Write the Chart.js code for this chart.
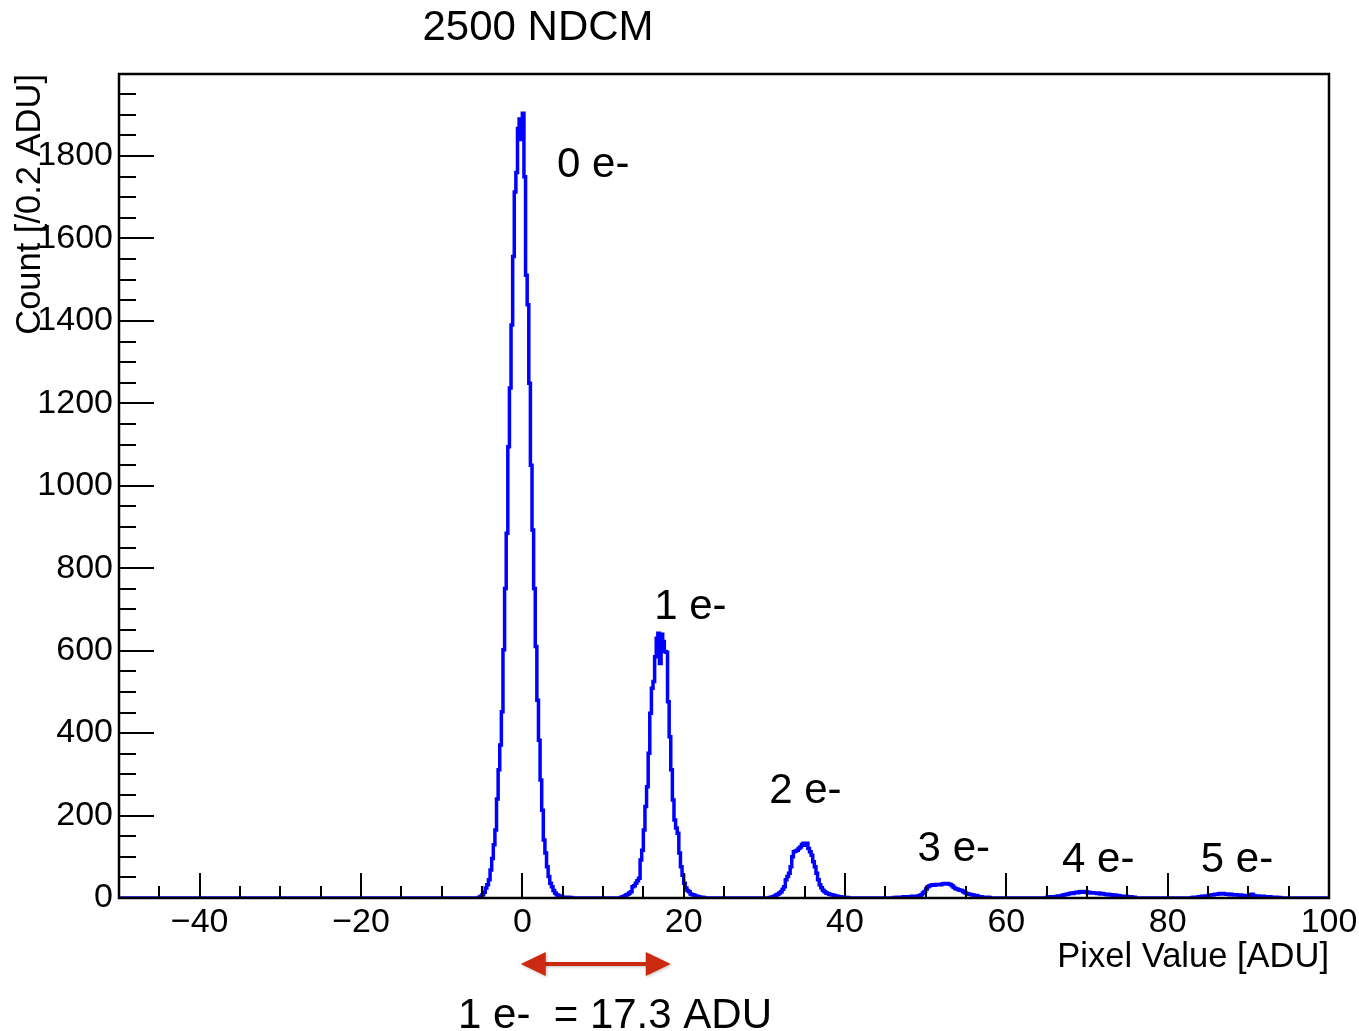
<!DOCTYPE html>
<html>
<head>
<meta charset="utf-8">
<title>2500 NDCM</title>
<script src="https://cdn.jsdelivr.net/npm/chart.js@4.4.1/dist/chart.umd.min.js"></script>
<style>
  html, body { margin: 0; padding: 0; background: #ffffff; }
  #wrap { width: 1359px; height: 1031px; }
</style>
</head>
<body>
<div id="wrap"><canvas id="hist" width="1359" height="1031"></canvas></div>
<script>
// ---- histogram definition: bins of 0.2 ADU from -50 to 100 ----
const binWidth = 0.2;
const xRange = [-50, 100];
const yRange = [0, 1999];

// axis tick labels
const xTickValues = [-40, -20, 0, 20, 40, 60, 80, 100];
const yTickValues = [0, 200, 400, 600, 800, 1000, 1200, 1400, 1600, 1800];

// counts per bin, grouped by charge peak (first bin's lower edge given separately)
const peak0Start = -5.4;
const peak0Counts = [2, 4, 8, 14, 24, 32, 44, 68, 96, 129, 165, 240, 311, 371, 452, 602, 751, 885,
  1095, 1237, 1390, 1556, 1713, 1760, 1867, 1890, 1840, 1904, 1750, 1511, 1439, 1249, 1050, 893,
  751, 610, 480, 383, 286, 213, 141, 109, 76, 52, 36, 27, 18, 12, 8, 6, 4, 3, 2, 2, 1, 2, 1, 1];

const peak1Start = 12.2;
const peak1Counts = [2, 3, 5, 7, 9, 12, 15, 27, 30, 36, 42, 48, 92, 116, 165, 222, 270, 351, 448,
  509, 525, 585, 630, 642, 569, 640, 622, 598, 596, 476, 391, 311, 238, 189, 170, 157, 109, 76,
  55, 36, 24, 18, 15, 10, 8, 7, 5, 4, 3, 2, 2, 1];

const peak2Start = 30.6;
const peak2Counts = [1, 2, 3, 5, 7, 9, 12, 15, 21, 27, 44, 52, 60, 76, 100, 112, 114, 116, 120,
  124, 130, 133, 128, 133, 120, 112, 104, 88, 76, 60, 44, 32, 25, 19, 15, 12, 11, 9, 8, 7, 6, 5,
  4, 3, 3, 2, 2, 1, 1];

const peak3Start = 46.0;
const peak3Counts = [1, 1, 2, 2, 2, 2, 3, 2, 3, 3, 3, 4, 3, 4, 4, 5, 6, 8, 12, 16, 22, 27, 30, 31,
  32, 31, 33, 32, 33, 32, 34, 35, 34, 35, 34, 33, 30, 26, 23, 22, 20, 19, 18, 15, 13, 11, 10, 9,
  8, 7, 6, 6, 4, 3, 3, 2, 2, 1, 2, 1];

const peak4Start = 65.0;
const peak4Counts = [2, 2, 3, 2, 3, 3, 4, 5, 5, 6, 7, 8, 9, 10, 11, 12, 11, 13, 14, 13, 15, 16, 14,
  15, 16, 13, 14, 12, 13, 12, 12, 11, 12, 10, 11, 10, 9, 8, 9, 7, 8, 6, 7, 5, 6, 5, 4, 4, 3, 4,
  3, 2, 3, 2, 2];

const peak5Start = 83.0;
const peak5Counts = [1, 2, 2, 2, 3, 3, 4, 4, 5, 5, 6, 7, 7, 8, 9, 9, 10, 11, 10, 11, 10, 9, 10, 8,
  9, 8, 7, 8, 7, 6, 7, 6, 5, 6, 5, 6, 8, 9, 6, 5, 4, 5, 4, 3, 4, 3, 3, 2, 3, 2, 2, 1, 2, 1, 1];

// peak labels (position in data units: ADU, counts at text baseline)
const peakLabels = ['0 e-', '1 e-', '2 e-', '3 e-', '4 e-', '5 e-'];
const peakLabelX = [4.3, 16.35, 30.6, 49.0, 66.9, 84.1];
const peakLabelY = [1749, 677, 230, 89, 62, 62];

// gain marker: arrow spanning one electron
const gainArrowFrom = -0.2;
const gainArrowTo = 18.4;
const gainText = '1 e-  = 17.3 ADU';

// ---- build bin contents ----
const nBins = Math.round((xRange[1] - xRange[0]) / binWidth);
const counts = new Array(nBins).fill(0);
[[peak0Start, peak0Counts], [peak1Start, peak1Counts], [peak2Start, peak2Counts],
 [peak3Start, peak3Counts], [peak4Start, peak4Counts], [peak5Start, peak5Counts]]
  .forEach(([start, vals]) => {
    const i0 = Math.round((start - xRange[0]) / binWidth);
    vals.forEach((v, k) => { counts[i0 + k] = v; });
  });

// step outline: each bin contributes its lower and upper edge at the bin height
const outline = [];
counts.forEach((c, i) => {
  const lo = +(xRange[0] + i * binWidth).toFixed(4);
  const hi = +(lo + binWidth).toFixed(4);
  outline.push({ x: lo, y: c }, { x: hi, y: c });
});

const FONT = '"Liberation Sans", Arial, Helvetica, sans-serif';
const fmt = v => (v < 0 ? '\u2212' + Math.abs(v) : String(v));

// frame, inward ticks and text annotations in the ROOT style
const rootFrame = {
  id: 'rootFrame',
  afterDraw(chart) {
    const { ctx, chartArea: a, scales: { x, y } } = chart;
    ctx.save();
    ctx.strokeStyle = '#000';
    ctx.lineCap = 'butt';

    // ticks on the y axis: every 50, long every 200
    ctx.lineWidth = 2;
    for (let v = yRange[0]; v <= yRange[1]; v += 50) {
      const py = Math.round(y.getPixelForValue(v));
      const len = v % 200 === 0 ? 35 : 17;
      ctx.beginPath(); ctx.moveTo(a.left, py); ctx.lineTo(a.left + len, py); ctx.stroke();
    }
    // ticks on the x axis: every 5, long every 20
    for (let v = xRange[0] + 5; v <= xRange[1]; v += 5) {
      const px = Math.round(x.getPixelForValue(v));
      const len = v % 20 === 0 ? 25 : 12;
      ctx.beginPath(); ctx.moveTo(px, a.bottom); ctx.lineTo(px, a.bottom - len); ctx.stroke();
    }

    // frame
    ctx.lineWidth = 2.5;
    ctx.strokeRect(a.left, a.top, a.right - a.left, a.bottom - a.top);

    ctx.fillStyle = '#000';
    // title
    ctx.font = '42px ' + FONT;
    ctx.textAlign = 'center';
    ctx.textBaseline = 'alphabetic';
    ctx.fillText('2500 NDCM', 538, 40);

    // axis titles
    ctx.font = '34.5px ' + FONT;
    ctx.textAlign = 'right';
    ctx.fillText('Pixel Value [ADU]', a.right, 967);
    ctx.save();
    ctx.translate(40, a.top);
    ctx.rotate(-Math.PI / 2);
    ctx.fillText('Count [/0.2 ADU]', 0, 0);
    ctx.restore();

    // peak labels
    ctx.font = '42px ' + FONT;
    ctx.textAlign = 'left';
    peakLabels.forEach((t, i) => {
      ctx.fillText(t, x.getPixelForValue(peakLabelX[i]), y.getPixelForValue(peakLabelY[i]));
    });

    // gain arrow below the axis
    const ax0 = x.getPixelForValue(gainArrowFrom);
    const ax1 = x.getPixelForValue(gainArrowTo);
    const ay = 964;
    const head = 25, half = 12;
    ctx.save();
    ctx.shadowColor = 'rgba(0,0,0,0.25)';
    ctx.shadowBlur = 3;
    ctx.shadowOffsetX = 1;
    ctx.shadowOffsetY = 1;
    ctx.strokeStyle = '#cc2a10';
    ctx.fillStyle = '#cc2a10';
    ctx.lineWidth = 4;
    ctx.beginPath(); ctx.moveTo(ax0 + head - 2, ay); ctx.lineTo(ax1 - head + 2, ay); ctx.stroke();
    ctx.beginPath(); ctx.moveTo(ax0, ay); ctx.lineTo(ax0 + head, ay - half); ctx.lineTo(ax0 + head, ay + half); ctx.closePath(); ctx.fill();
    ctx.beginPath(); ctx.moveTo(ax1, ay); ctx.lineTo(ax1 - head, ay - half); ctx.lineTo(ax1 - head, ay + half); ctx.closePath(); ctx.fill();
    ctx.restore();

    ctx.font = '42px ' + FONT;
    ctx.textAlign = 'left';
    ctx.fillStyle = '#000';
    ctx.fillText(gainText, 458, 1028);
    ctx.restore();
  }
};

new Chart(document.getElementById('hist'), {
  type: 'line',
  data: {
    datasets: [{
      data: outline,
      borderColor: '#0000ff',
      borderWidth: 3.5,
      pointRadius: 0,
      tension: 0,
      fill: false
    }]
  },
  options: {
    responsive: false,
    animation: false,
    devicePixelRatio: 1,
    parsing: false,
    layout: { padding: { top: 74, right: 30, left: 0, bottom: 0 } },
    plugins: { legend: { display: false }, tooltip: { enabled: false } },
    scales: {
      x: {
        type: 'linear',
        min: xRange[0],
        max: xRange[1],
        afterFit(s) { s.height = 133; s.paddingLeft = 0; s.paddingRight = 0; },
        afterBuildTicks(s) { s.ticks = xTickValues.map(v => ({ value: v })); },
        grid: { display: false, drawTicks: false, tickLength: 0 },
        border: { display: false },
        ticks: {
          font: { family: FONT, size: 34 },
          color: '#000',
          padding: 4,
          maxRotation: 0,
          autoSkip: false,
          callback: fmt
        }
      },
      y: {
        type: 'linear',
        min: yRange[0],
        max: yRange[1],
        afterFit(s) { s.width = 119; s.paddingTop = 0; s.paddingBottom = 0; },
        afterBuildTicks(s) { s.ticks = yTickValues.map(v => ({ value: v })); },
        grid: { display: false, drawTicks: false, tickLength: 0 },
        border: { display: false },
        ticks: {
          font: { family: FONT, size: 34 },
          color: '#000',
          padding: 6,
          autoSkip: false,
          callback: fmt
        }
      }
    }
  },
  plugins: [rootFrame]
});
</script>
</body>
</html>
